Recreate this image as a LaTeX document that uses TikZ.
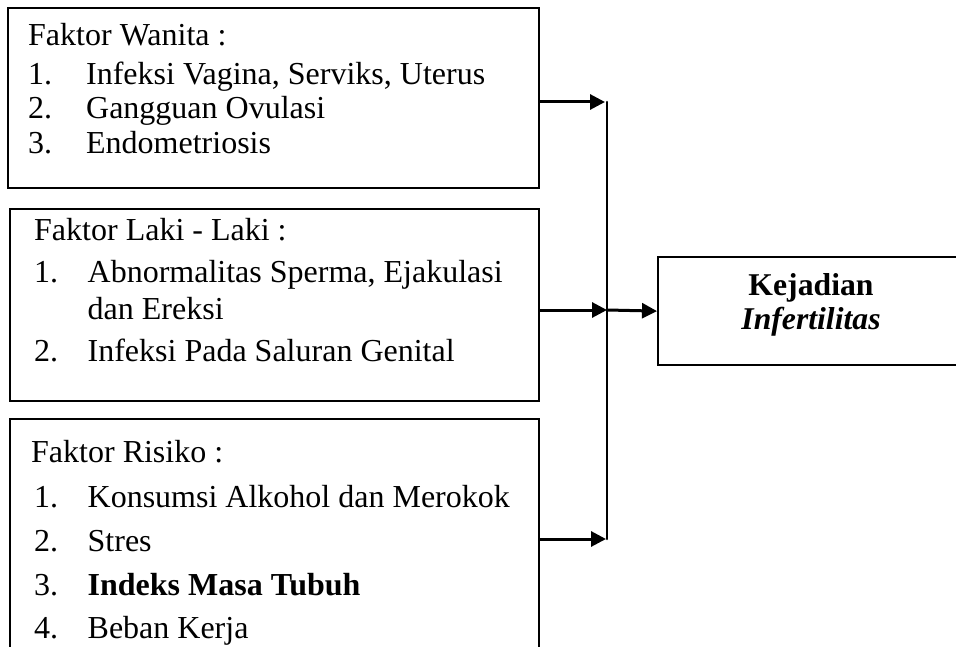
\documentclass[tikz,border=0pt]{standalone}
\usepackage{fontspec}
\setmainfont{Liberation Serif}
\usetikzlibrary{arrows.meta}

\begin{document}
\begin{tikzpicture}[x=1pt, y=-1pt, line cap=round,
    kotak/.style={draw, rectangle, line width=2.2pt, inner sep=0pt, anchor=north west},
    teks/.style={anchor=base west, inner sep=0pt, font=\fontsize{32}{38}\selectfont},
    judul/.style={anchor=base, inner sep=0pt, font=\fontsize{31.7}{38}\selectfont\bfseries},
    panah/.style={line width=3pt, -{Triangle[length=15pt, width=15pt]}}]

    \useasboundingbox (0,0) rectangle (956,647);
    \clip (0,0) rectangle (956,647);

    % kotak faktor
    \node [kotak, minimum width=531pt, minimum height=180pt] (wanita) at (7,7) {};
    \node [kotak, minimum width=529pt, minimum height=192pt] (laki) at (9,208) {};
    \node [kotak, minimum width=529pt, minimum height=300pt] (risiko) at (9,418) {};
    \node [kotak, minimum width=308pt, minimum height=108pt] (hasil) at (657,256) {};

    \node [teks] (w0) at (28,46) {Faktor Wanita :};
    \node [teks] (w1) at (28,85) {\makebox[58pt][l]{1.}Infeksi Vagina, Serviks, Uterus};
    \node [teks] (w2) at (28,119) {\makebox[58pt][l]{2.}Gangguan Ovulasi};
    \node [teks] (w3) at (28,154) {\makebox[58pt][l]{3.}Endometriosis};

    \node [teks] (l0) at (34,241) {Faktor Laki - Laki :};
    \node [teks] (l1) at (34,282) {\makebox[53.5pt][l]{1.}Abnormalitas Sperma, Ejakulasi};
    \node [teks] (l1b) at (87.5,319) {dan Ereksi};
    \node [teks] (l2) at (34,361) {\makebox[53.5pt][l]{2.}Infeksi Pada Saluran Genital};

    \node [teks] (r0) at (31,462) {Faktor Risiko :};
    \node [teks] (r1) at (34,507) {\makebox[53.5pt][l]{1.}Konsumsi Alkohol dan Merokok};
    \node [teks] (r2) at (34,551) {\makebox[53.5pt][l]{2.}Stres};
    \node [teks] (r3) at (34,595) {\makebox[53.5pt][l]{3.}\textbf{Indeks Masa Tubuh}};
    \node [teks] (r4) at (34,638) {\makebox[53.5pt][l]{4.}Beban Kerja};

    \node [judul] (h1) at (811,295) {Kejadian};
    \node [judul] (h2) at (811,329) {\itshape Infertilitas};

    % garis penghubung
    \coordinate (j1) at (607,102);
    \coordinate (j2) at (607,310);
    \coordinate (j3) at (607,539);

    \draw [line width=2.6pt] (j1) -- (j3);
    \draw [panah] (wanita.east |- j1) -- ([xshift=-2pt]j1);
    \draw [panah] (laki.east |- j2) -- (j2);
    \draw [panah] (j2) -- (hasil.west);
    \draw [panah] (risiko.east |- j3) -- ([xshift=-1pt]j3);

\end{tikzpicture}
\end{document}
